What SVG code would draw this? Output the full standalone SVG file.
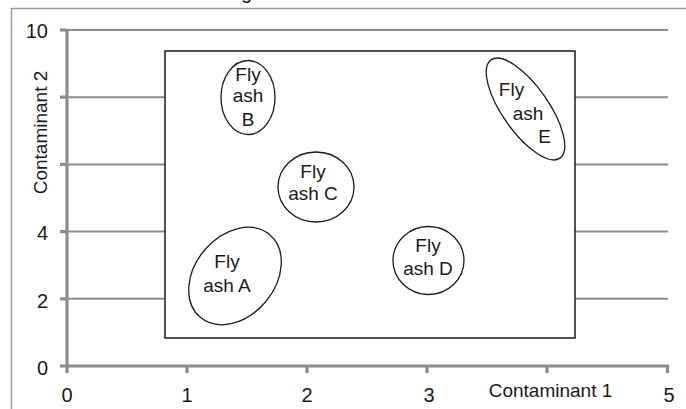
<svg xmlns="http://www.w3.org/2000/svg" width="686" height="409" viewBox="0 0 686 409">
<style>
  text { font-family: "Liberation Sans", Arial, sans-serif; fill: #1a1a1a; }
  .num { font-size: 20px; }
  .lbl { font-size: 19px; text-anchor: middle; }
  .axtitle { font-size: 19px; text-anchor: middle; }
  .grid { stroke: #8c8c8c; stroke-width: 2; fill: none; }
  .axis { stroke: #8c8c8c; stroke-width: 3.2; fill: none; }
  .node { fill: #ffffff; stroke: #1a1a1a; stroke-width: 1.3; }
</style>
<rect x="0" y="0" width="686" height="409" fill="#ffffff"/>
<!-- outer frame -->
<path d="M11.5,409 V8.5 H686" fill="none" stroke="#9a9a9a" stroke-width="1.5"/>
<text class="num" x="241" y="-1">g</text>
<!-- gridlines -->
<g id="grid">
  <line class="grid" x1="67" y1="30" x2="668" y2="30"/>
  <line class="grid" x1="67" y1="97.2" x2="668" y2="97.2"/>
  <line class="grid" x1="67" y1="164.4" x2="668" y2="164.4"/>
  <line class="grid" x1="67" y1="231.6" x2="668" y2="231.6"/>
  <line class="grid" x1="67" y1="298.8" x2="668" y2="298.8"/>
</g>
<!-- axes -->
<g id="axes">
  <path class="axis" d="M67,30 V373"/>
  <path class="axis" d="M60,366 H667.5 V373"/>
  <path class="axis" d="M60,30 H67 M60,97.2 H67 M60,164.4 H67 M60,231.6 H67 M60,298.8 H67"/>
  <path class="axis" d="M187,366 V373 M307,366 V373 M427,366 V373 M547,366 V373"/>
</g>
<g id="ylabels" class="num" text-anchor="end">
  <text x="48" y="38">10</text>
  <text x="48" y="240">4</text>
  <text x="48" y="308">2</text>
  <text x="48" y="375">0</text>
</g>
<g id="xlabels" class="num" text-anchor="middle">
  <text x="67" y="402">0</text>
  <text x="187" y="402">1</text>
  <text x="307" y="402">2</text>
  <text x="429" y="402">3</text>
  <text x="669" y="402">5</text>
</g>
<text class="axtitle" x="550.5" y="397">Contaminant 1</text>
<text class="axtitle" transform="translate(47,132.5) rotate(-90)">Contaminant 2</text>
<!-- region box -->
<rect id="region" x="165" y="51" width="410" height="287" fill="#ffffff" stroke="#1a1a1a" stroke-width="1.5"/>
<g id="connectors"></g>
<g id="flyashA">
  <ellipse class="node" cx="235" cy="276" rx="54" ry="40" transform="rotate(-50 235 276)"/>
  <text class="lbl" x="227" y="267.5">Fly</text>
  <text class="lbl" x="227" y="291.5">ash A</text>
</g>
<g id="flyashB">
  <ellipse class="node" cx="248" cy="97.5" rx="27" ry="37"/>
  <text class="lbl" x="248" y="80.5">Fly</text>
  <text class="lbl" x="248" y="102">ash</text>
  <text class="lbl" x="248" y="125.5">B</text>
</g>
<g id="flyashC">
  <ellipse class="node" cx="316" cy="187" rx="38" ry="35"/>
  <text class="lbl" x="313" y="178">Fly</text>
  <text class="lbl" x="313" y="200">ash C</text>
</g>
<g id="flyashD">
  <ellipse class="node" cx="428.5" cy="260.5" rx="35.5" ry="34"/>
  <text class="lbl" x="428" y="251.5">Fly</text>
  <text class="lbl" x="428" y="274.5">ash D</text>
</g>
<g id="flyashE">
  <ellipse class="node" cx="525.5" cy="109" rx="60" ry="23" transform="rotate(55 525.5 109)"/>
  <text class="lbl" x="511.5" y="96">Fly</text>
  <text class="lbl" x="528" y="120">ash</text>
  <text class="lbl" x="544.5" y="143">E</text>
</g>
</svg>
